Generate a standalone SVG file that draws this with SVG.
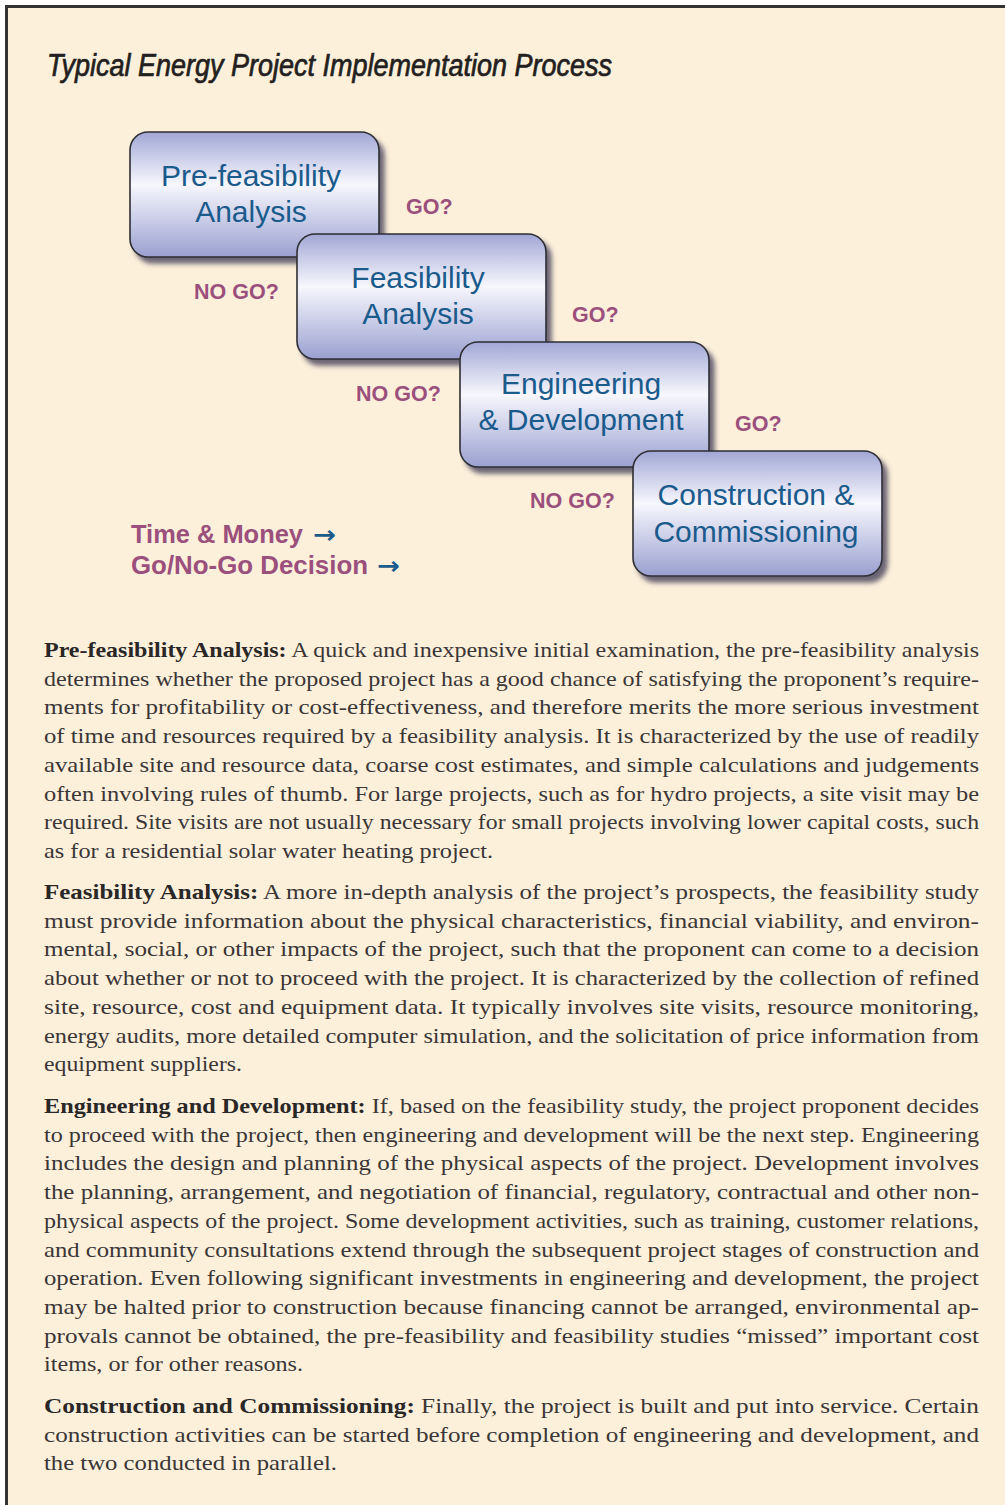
<svg xmlns="http://www.w3.org/2000/svg" width="1005" height="1505" viewBox="0 0 1005 1505">
<style>
.title{font-family:"Liberation Sans",Arial,sans-serif;font-style:italic;font-size:31px;fill:#231f20;stroke:#231f20;stroke-width:0.7}
.box{stroke:#2e2e33;stroke-width:1.6;fill:url(#g)}
.bt{font-family:"Liberation Sans",Arial,sans-serif;font-size:30px;fill:#1a5b8c;text-anchor:middle}
.lab{font-family:"Liberation Sans",Arial,sans-serif;font-weight:bold;font-size:21.5px;fill:#9b4f7c}
.leg{font-family:"Liberation Sans",Arial,sans-serif;font-weight:bold;font-size:25px;fill:#9b4f7c}
.arr{font-family:"DejaVu Sans","Liberation Sans",sans-serif;font-weight:bold;font-size:24px;fill:#1a5b8c}
.body{font-family:"Liberation Serif","Times New Roman",serif;font-size:21px;fill:#3a3636}
.b{font-weight:bold;fill:#2a2727}
</style>
<defs>
<linearGradient id="g" x1="0" y1="0" x2="0" y2="1">
<stop offset="0" stop-color="#a1a7d5"/>
<stop offset="0.42" stop-color="#f7f7fd"/>
<stop offset="1" stop-color="#9aa0d0"/>
</linearGradient>
<filter id="sh" x="-10%" y="-10%" width="130%" height="135%">
<feDropShadow dx="5" dy="6" stdDeviation="2.5" flood-color="#3b3552" flood-opacity="0.75"/>
</filter>
</defs>
<rect x="0" y="0" width="1005" height="1505" fill="#ffffff"/>
<rect x="6.5" y="6.5" width="1100" height="1600" fill="#fdf0db" stroke="#333333" stroke-width="3"/>
<text class="title" x="47" y="76" textLength="565" lengthAdjust="spacingAndGlyphs">Typical Energy Project Implementation Process</text>

<g id="node-prefeasibility">
<rect class="box" x="130" y="132" width="249" height="125" rx="18" filter="url(#sh)"/>
<text class="bt" x="251" y="186">Pre-feasibility</text>
<text class="bt" x="251" y="222">Analysis</text>
</g>
<g id="node-feasibility">
<rect class="box" x="297" y="234" width="249" height="125" rx="18" filter="url(#sh)"/>
<text class="bt" x="418" y="288">Feasibility</text>
<text class="bt" x="418" y="324">Analysis</text>
</g>
<g id="node-engineering">
<rect class="box" x="460" y="342" width="249" height="125" rx="18" filter="url(#sh)"/>
<text class="bt" x="581" y="394">Engineering</text>
<text class="bt" x="581" y="430">&amp; Development</text>
</g>
<g id="node-construction">
<rect class="box" x="633" y="451" width="249" height="125" rx="18" filter="url(#sh)"/>
<text class="bt" x="756" y="505">Construction &amp;</text>
<text class="bt" x="756" y="542">Commissioning</text>
</g>

<g id="labels">
<text class="lab" x="406" y="214">GO?</text>
<text class="lab" x="572" y="322">GO?</text>
<text class="lab" x="735" y="431">GO?</text>
<text class="lab" x="194" y="299">NO GO?</text>
<text class="lab" x="356" y="401">NO GO?</text>
<text class="lab" x="530" y="508">NO GO?</text>
</g>

<g id="legend">
<text class="leg" x="131" y="543" textLength="172" lengthAdjust="spacingAndGlyphs">Time &amp; Money</text>
<text class="arr" x="313" y="543" textLength="23" lengthAdjust="spacingAndGlyphs">→</text>
<text class="leg" x="131" y="574" textLength="237" lengthAdjust="spacingAndGlyphs">Go/No-Go Decision</text>
<text class="arr" x="377" y="574" textLength="23" lengthAdjust="spacingAndGlyphs">→</text>
</g>

<g id="body" class="body">
<text x="44" y="657" textLength="935" lengthAdjust="spacingAndGlyphs"><tspan class="b">Pre-feasibility Analysis:</tspan> A quick and inexpensive initial examination, the pre-feasibility analysis</text>
<text x="44" y="685.7" textLength="935" lengthAdjust="spacingAndGlyphs">determines whether the proposed project has a good chance of satisfying the proponent’s require-</text>
<text x="44" y="714.4" textLength="935" lengthAdjust="spacingAndGlyphs">ments for profitability or cost-effectiveness, and therefore merits the more serious investment</text>
<text x="44" y="743.1" textLength="935" lengthAdjust="spacingAndGlyphs">of time and resources required by a feasibility analysis. It is characterized by the use of readily</text>
<text x="44" y="771.8" textLength="935" lengthAdjust="spacingAndGlyphs">available site and resource data, coarse cost estimates, and simple calculations and judgements</text>
<text x="44" y="800.5" textLength="935" lengthAdjust="spacingAndGlyphs">often involving rules of thumb. For large projects, such as for hydro projects, a site visit may be</text>
<text x="44" y="829.2" textLength="935" lengthAdjust="spacingAndGlyphs">required. Site visits are not usually necessary for small projects involving lower capital costs, such</text>
<text x="44" y="858" textLength="449" lengthAdjust="spacingAndGlyphs">as for a residential solar water heating project.</text>

<text x="44" y="899" textLength="935" lengthAdjust="spacingAndGlyphs"><tspan class="b">Feasibility Analysis:</tspan> A more in-depth analysis of the project’s prospects, the feasibility study</text>
<text x="44" y="927.7" textLength="935" lengthAdjust="spacingAndGlyphs">must provide information about the physical characteristics, financial viability, and environ-</text>
<text x="44" y="956.4" textLength="935" lengthAdjust="spacingAndGlyphs">mental, social, or other impacts of the project, such that the proponent can come to a decision</text>
<text x="44" y="985.1" textLength="935" lengthAdjust="spacingAndGlyphs">about whether or not to proceed with the project. It is characterized by the collection of refined</text>
<text x="44" y="1013.8" textLength="935" lengthAdjust="spacingAndGlyphs">site, resource, cost and equipment data. It typically involves site visits, resource monitoring,</text>
<text x="44" y="1042.5" textLength="935" lengthAdjust="spacingAndGlyphs">energy audits, more detailed computer simulation, and the solicitation of price information from</text>
<text x="44" y="1071.2" textLength="198" lengthAdjust="spacingAndGlyphs">equipment suppliers.</text>

<text x="44" y="1113" textLength="935" lengthAdjust="spacingAndGlyphs"><tspan class="b">Engineering and Development:</tspan> If, based on the feasibility study, the project proponent decides</text>
<text x="44" y="1141.7" textLength="935" lengthAdjust="spacingAndGlyphs">to proceed with the project, then engineering and development will be the next step. Engineering</text>
<text x="44" y="1170.4" textLength="935" lengthAdjust="spacingAndGlyphs">includes the design and planning of the physical aspects of the project. Development involves</text>
<text x="44" y="1199.1" textLength="935" lengthAdjust="spacingAndGlyphs">the planning, arrangement, and negotiation of financial, regulatory, contractual and other non-</text>
<text x="44" y="1227.8" textLength="935" lengthAdjust="spacingAndGlyphs">physical aspects of the project. Some development activities, such as training, customer relations,</text>
<text x="44" y="1256.5" textLength="935" lengthAdjust="spacingAndGlyphs">and community consultations extend through the subsequent project stages of construction and</text>
<text x="44" y="1285.2" textLength="935" lengthAdjust="spacingAndGlyphs">operation. Even following significant investments in engineering and development, the project</text>
<text x="44" y="1313.9" textLength="935" lengthAdjust="spacingAndGlyphs">may be halted prior to construction because financing cannot be arranged, environmental ap-</text>
<text x="44" y="1342.6" textLength="935" lengthAdjust="spacingAndGlyphs">provals cannot be obtained, the pre-feasibility and feasibility studies “missed” important cost</text>
<text x="44" y="1371.3" textLength="259" lengthAdjust="spacingAndGlyphs">items, or for other reasons.</text>

<text x="44" y="1413" textLength="935" lengthAdjust="spacingAndGlyphs"><tspan class="b">Construction and Commissioning:</tspan> Finally, the project is built and put into service. Certain</text>
<text x="44" y="1441.7" textLength="935" lengthAdjust="spacingAndGlyphs">construction activities can be started before completion of engineering and development, and</text>
<text x="44" y="1470.4" textLength="293" lengthAdjust="spacingAndGlyphs">the two conducted in parallel.</text>
</g>
</svg>
